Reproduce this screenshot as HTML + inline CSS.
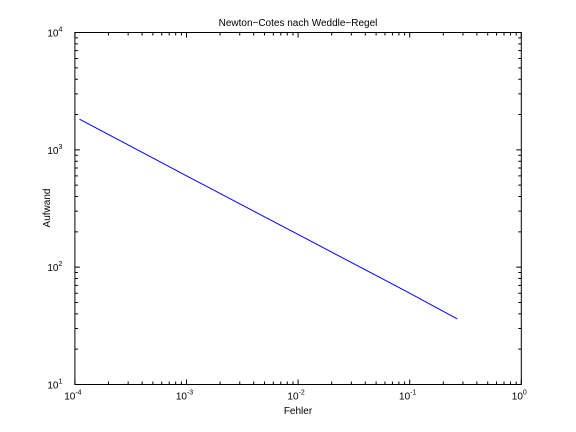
<!DOCTYPE html>
<html><head><meta charset="utf-8"><style>
body{margin:0;background:#fff}
svg{display:block;font-family:"Liberation Sans",sans-serif}
</style></head><body>
<svg id="c" width="576" height="432" xmlns="http://www.w3.org/2000/svg">
<rect width="576" height="432" fill="#fff"/>
<text x="298" y="26" font-size="10" text-anchor="middle">Newton−Cotes nach Weddle−Regel</text>
<text x="298" y="414" font-size="10" text-anchor="middle">Fehler</text>
<text transform="translate(50,208) rotate(-90)" font-size="10" text-anchor="middle">Aufwand</text>
<g id="ax"></g>
</svg>
<script>
const errors=[1.1e-4,1e-3,1e-2,0.1,0.267];
const costs=[1824,601,190,60,36.2];
const xDecades=[-4,-3,-2,-1,0];
const yDecades=[1,2,3,4];
const L=74.9,R=521.3,T=32.5,B=384.5;
const NS="http://www.w3.org/2000/svg";
const g=document.getElementById('ax');
function sx(v){return L+(Math.log10(v)-(-4))/4*(R-L);}
function sy(v){return B-(Math.log10(v)-1)/3*(B-T);}
function mk(t,a){const e=document.createElementNS(NS,t);for(const k in a)e.setAttribute(k,a[k]);g.appendChild(e);return e;}
let pts=errors.map((e,i)=>sx(e).toFixed(2)+','+sy(costs[i]).toFixed(2)).join(' ');
let line=mk('polyline',{points:pts,fill:'none',stroke:'#0000ff','stroke-width':1});


let tk='';
xDecades.forEach((d,i)=>{
  for(let m=1;m<=9;m++){
    if(i==xDecades.length-1&&m>1)break;
    const x=sx(m*Math.pow(10,d));const len=m==1?5:3;
    tk+=`M${x},${B}v${-len}M${x},${T}v${len}`;
  }
  const t=mk('text',{x:sx(Math.pow(10,d))-2,y:B+15,'font-size':10,'text-anchor':'middle'});
  t.innerHTML=`10<tspan dy="-5" font-size="7">${d}</tspan>`;
  
  
});
yDecades.forEach((d,i)=>{
  for(let m=1;m<=9;m++){
    if(i==yDecades.length-1&&m>1)break;
    const y=sy(m*Math.pow(10,d));const len=m==1?5:3;
    tk+=`M${L},${y}h${len}M${R},${y}h${-len}`;
  }
  const t=mk('text',{x:L-20,y:sy(Math.pow(10,d))+4,'font-size':10,'text-anchor':'middle'});
  t.innerHTML=`10<tspan dy="-5" font-size="7">${d}</tspan>`;
  
  
});
const ticks=mk('path',{d:tk,stroke:'#000','stroke-width':1,fill:'none'});


const box=mk('rect',{x:L,y:T,width:R-L,height:B-T,fill:'none',stroke:'#000','stroke-width':1});


</script>
</body></html>
